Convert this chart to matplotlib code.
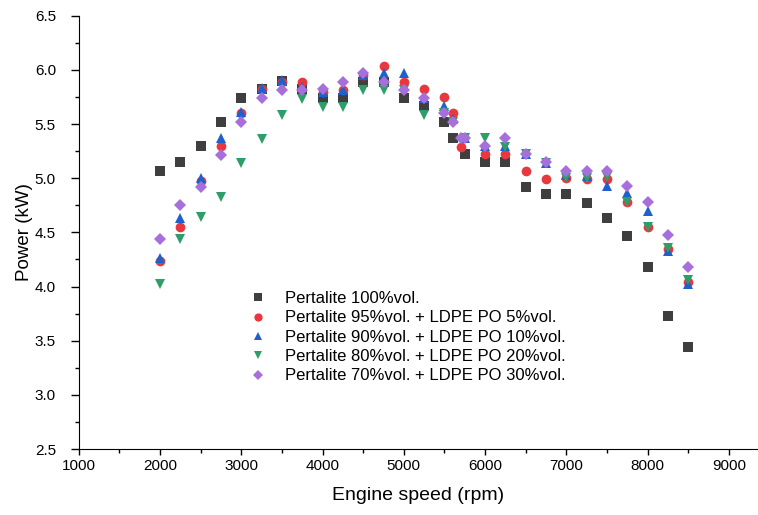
import numpy as np
import matplotlib.pyplot as plt

plt.rcParams['font.family'] = ['Liberation Sans', 'DejaVu Sans']

# engine speed (rpm)
x_p100 = [2000, 2250, 2500, 2750, 3000, 3250, 3500, 3750, 4000, 4250, 4500, 4750, 5000, 5250,
          5500, 5600, 5750, 6000, 6250, 6500, 6750, 7000, 7250, 7500, 7750, 8000, 8250, 8500]
x_p95 = [2000, 2250, 2500, 2750, 3000, 3250, 3500, 3750, 4000, 4250, 4500, 4750, 5000, 5250,
         5500, 5600, 5700, 6000, 6250, 6500, 6750, 7000, 7250, 7500, 7750, 8000, 8250, 8500]
x_p90 = x_p100
x_p80 = x_p100
x_p70 = [2000, 2250, 2500, 2750, 3000, 3250, 3500, 3750, 4000, 4250, 4500, 4750, 5000, 5250,
         5500, 5600, 5700, 5750, 6000, 6250, 6500, 6750, 7000, 7250, 7500, 7750, 8000, 8250, 8500]

# power (kW)
p100 = [5.07, 5.15, 5.30, 5.52, 5.74, 5.82, 5.90, 5.82, 5.74, 5.74, 5.89, 5.89, 5.74, 5.67,
        5.52, 5.37, 5.22, 5.15, 5.15, 4.92, 4.85, 4.85, 4.77, 4.63, 4.47, 4.18, 3.73, 3.44]
p95 = [4.24, 4.55, 4.97, 5.30, 5.60, 5.82, 5.89, 5.89, 5.80, 5.81, 5.95, 6.04, 5.89, 5.82,
       5.75, 5.60, 5.29, 5.22, 5.22, 5.07, 4.99, 5.00, 4.99, 4.99, 4.78, 4.55, 4.35, 4.04]
p90 = [4.26, 4.63, 5.00, 5.37, 5.61, 5.83, 5.91, 5.84, 5.80, 5.81, 5.95, 5.97, 5.97, 5.74,
       5.67, 5.55, 5.37, 5.30, 5.30, 5.22, 5.14, 5.03, 5.02, 4.93, 4.86, 4.70, 4.33, 4.02]
p80 = [4.02, 4.44, 4.64, 4.83, 5.14, 5.36, 5.58, 5.73, 5.66, 5.66, 5.81, 5.81, 5.81, 5.58,
       5.60, 5.52, 5.37, 5.37, 5.29, 5.22, 5.14, 5.00, 5.00, 5.01, 4.78, 4.55, 4.36, 4.06]
p70 = [4.44, 4.75, 4.92, 5.21, 5.52, 5.74, 5.81, 5.81, 5.82, 5.89, 5.97, 5.89, 5.81, 5.74,
       5.60, 5.52, 5.37, 5.37, 5.30, 5.37, 5.22, 5.15, 5.07, 5.07, 5.07, 4.93, 4.78, 4.48, 4.18]

labels = ['Pertalite 100%vol.',
          'Pertalite 95%vol. + LDPE PO 5%vol.',
          'Pertalite 90%vol. + LDPE PO 10%vol.',
          'Pertalite 80%vol. + LDPE PO 20%vol.',
          'Pertalite 70%vol. + LDPE PO 30%vol.']

fig = plt.figure(figsize=(7.58, 5.15), dpi=100, facecolor='w')
ax = fig.add_axes([0.104, 0.128, 0.895, 0.8415])

ax.plot(x_p100, p100, 's', color='#3f3f3f', ms=6.5, mew=0, label=labels[0])
ax.plot(x_p95, p95, 'o', color='#e8383d', ms=7, mew=0, label=labels[1])
ax.plot(x_p90, p90, '^', color='#1f60cc', ms=7.5, mew=0, label=labels[2])
ax.plot(x_p80, p80, 'v', color='#2e9e68', ms=7.5, mew=0, label=labels[3])
ax.plot(x_p70, p70, 'D', color='#a66fdc', ms=6.5, mew=0, label=labels[4])

ax.set_xlim(1000, 9350)
ax.set_ylim(2.5, 6.5)
ax.set_xticks(np.arange(1000, 9001, 1000))
ax.set_xticks(np.arange(1500, 9400, 1000), minor=True)
ax.set_yticks(np.arange(2.5, 6.51, 0.5))
ax.set_yticks(np.arange(2.75, 6.5, 0.5), minor=True)
ax.yaxis.set_major_formatter(plt.FormatStrFormatter('%.1f'))

ax.spines['top'].set_visible(False)
ax.spines['right'].set_visible(False)
ax.tick_params(which='major', direction='out', width=1, labelsize=11)
ax.tick_params(axis='x', which='major', length=4, pad=3)
ax.tick_params(axis='y', which='major', length=5.5, pad=11)
ax.tick_params(which='minor', direction='out', length=3, width=1)

ax.set_xlabel('Engine speed (rpm)', fontsize=14, labelpad=10)
ax.set_ylabel('Power (kW)', fontsize=13.5, labelpad=1)

ax.legend(loc='upper left', bbox_to_anchor=(0.3165, 0.451), bbox_transform=fig.transFigure,
          frameon=False, fontsize=12, labelspacing=0.26, handletextpad=1.0,
          handlelength=1.2, borderpad=0, markerscale=0.85)

plt.savefig('out.png', dpi=100)
